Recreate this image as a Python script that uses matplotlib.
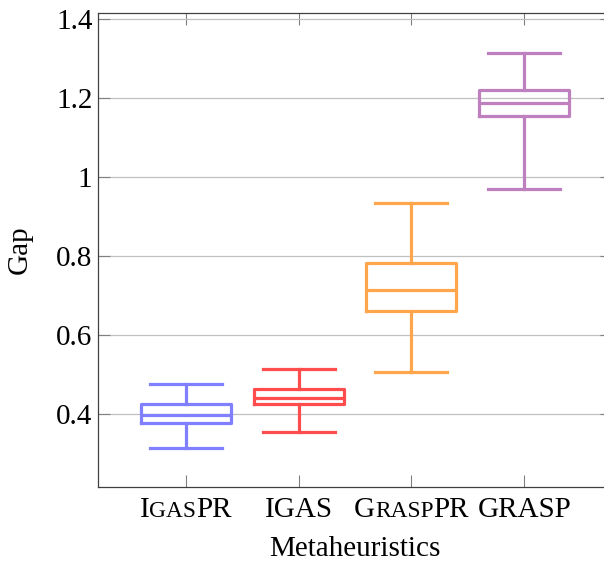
import matplotlib
matplotlib.use('Agg')
import matplotlib.pyplot as plt
from matplotlib.offsetbox import TextArea, HPacker, AnnotationBbox

plt.rcParams['font.family'] = ['Liberation Serif', 'DejaVu Serif']

# label pieces: (text, small caps?)
labels = [
    [('I', False), ('GAS', True), ('PR', False)],
    [('IGAS', False)],
    [('G', False), ('RASP', True), ('PR', False)],
    [('GRASP', False)],
]
whislo = [0.314, 0.352, 0.504, 0.969]
q1 = [0.377, 0.423, 0.659, 1.154]
med = [0.397, 0.440, 0.712, 1.185]
q3 = [0.425, 0.461, 0.780, 1.218]
whishi = [0.476, 0.514, 0.934, 1.314]
colors = ['#8080ff', '#ff4d4d', '#ffa64d', '#bf80bf']

fs = 21

fig = plt.figure(figsize=(6.04, 5.62), dpi=100)
ax = fig.add_axes([98 / 604, 75 / 562, 514 / 604, 474 / 562])

for i in range(4):
    stats = [dict(med=med[i], q1=q1[i], q3=q3[i], whislo=whislo[i], whishi=whishi[i])]
    st = dict(color=colors[i], linewidth=2.3)
    ax.bxp(stats, positions=[i + 1], widths=0.8, capwidths=0.64, showfliers=False,
           boxprops=st, whiskerprops=st, capprops=st, medianprops=st,
           manage_ticks=False)

ax.set_xlim(0.221, 4.779)
ax.set_ylim(0.214, 1.414)
ax.set_yticks([0.4, 0.6, 0.8, 1.0, 1.2, 1.4])
ax.set_yticklabels(['0.4', '0.6', '0.8', '1', '1.2', '1.4'])
ax.set_xticks([1, 2, 3, 4])
ax.set_xticklabels(['', '', '', ''])
ax.tick_params(axis='both', direction='in', length=8.5, width=0.8, color='#808080',
               labelsize=fs, top=True, right=True)
ax.tick_params(axis='y', pad=4)
ax.yaxis.grid(True, color='#c0c0c0', linewidth=0.9)
ax.set_axisbelow(True)
for s in ax.spines.values():
    s.set_color('#404040')
    s.set_linewidth(0.9)

for i, parts in enumerate(labels):
    boxes = []
    for txt, small in parts:
        boxes.append(TextArea(txt, textprops=dict(fontsize=fs * 0.8 if small else fs,
                                                  family=['Liberation Serif'])))
    pack = HPacker(children=boxes, align='baseline', pad=0, sep=0)
    ab = AnnotationBbox(pack, (i + 1, 0), xycoords=('data', 'axes fraction'),
                        xybox=(0, -7), boxcoords='offset points',
                        box_alignment=(0.5, 1), frameon=False)
    ax.add_artist(ab)

ax.set_ylabel('Gap', fontsize=fs, labelpad=17)
ax.set_xlabel('Metaheuristics', fontsize=fs, labelpad=31.5)

fig.savefig('out.png', dpi=100)
